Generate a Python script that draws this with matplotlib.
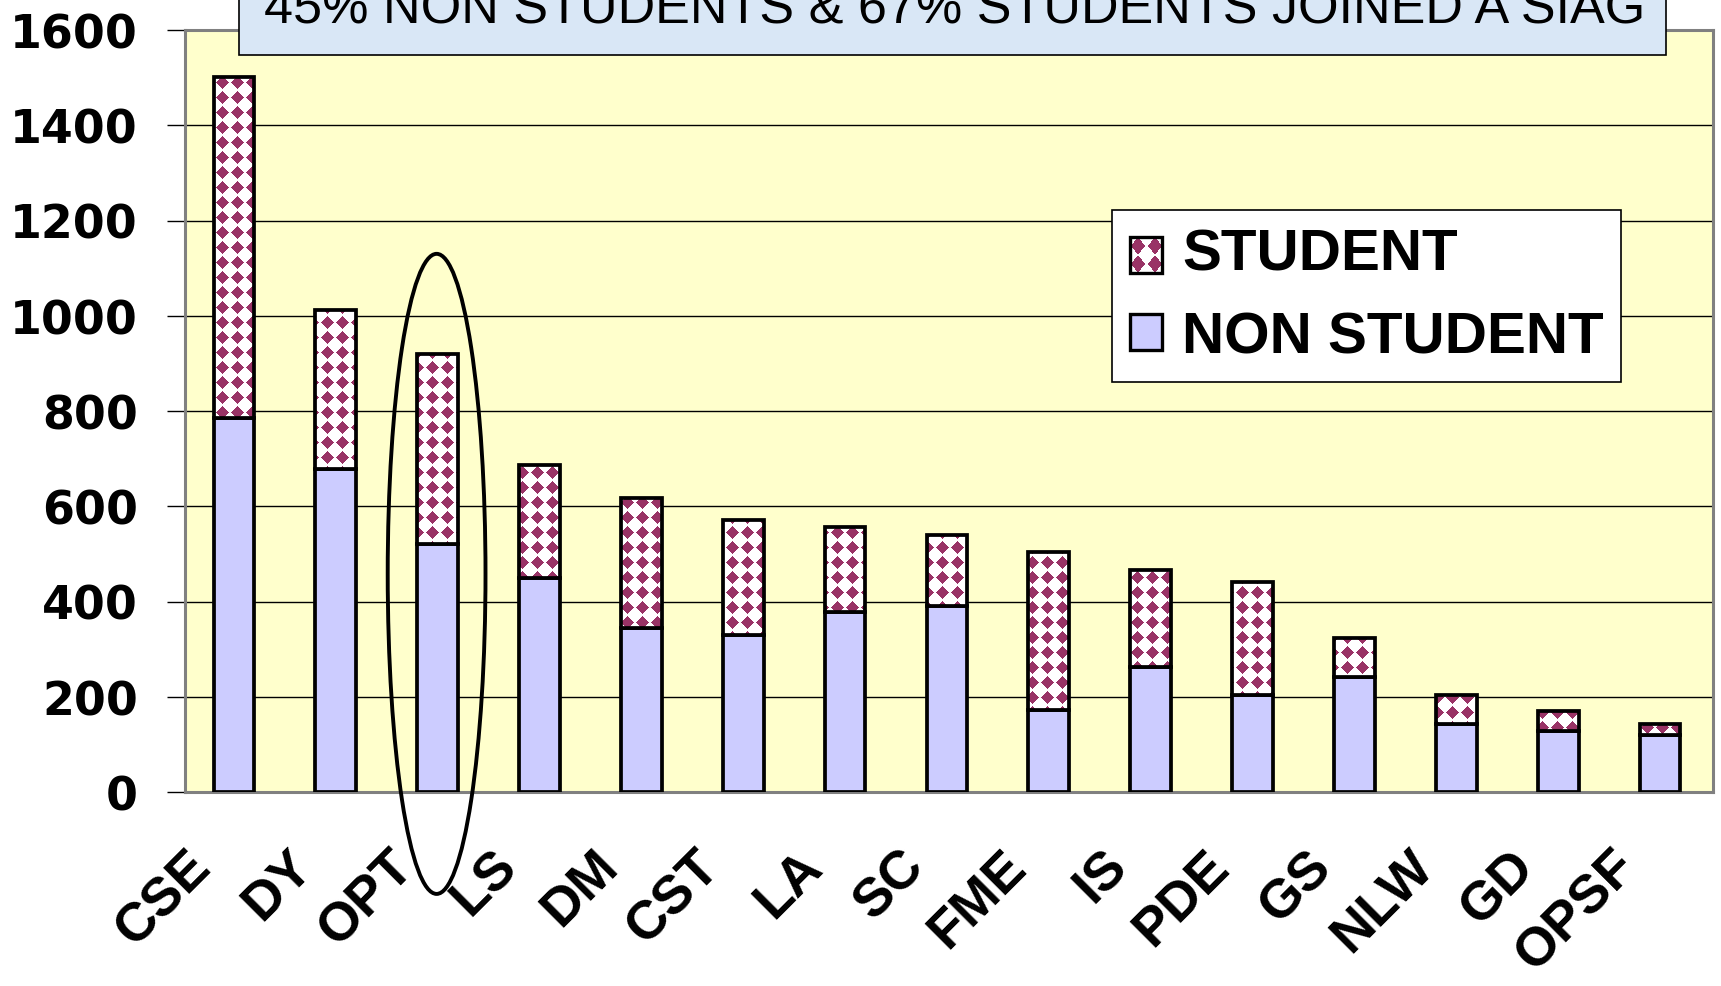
import matplotlib
matplotlib.use('Agg')
import matplotlib.pyplot as plt
import numpy as np
from matplotlib.patches import Rectangle, Ellipse, Patch
from matplotlib.path import Path
from matplotlib.image import BboxImage
from matplotlib.transforms import Bbox, TransformedBbox, ScaledTranslation

# ---------------- data ----------------
categories = ['CSE', 'DY', 'OPT', 'LS', 'DM', 'CST', 'LA', 'SC', 'FME',
              'IS', 'PDE', 'GS', 'NLW', 'GD', 'OPSF']
non_student = [785, 678, 520, 450, 345, 330, 377, 390, 172, 262, 203, 241, 142, 128, 119]
student = [717, 334, 400, 236, 272, 242, 179, 150, 331, 204, 238, 82, 61, 43, 24]
yticks = [0, 200, 400, 600, 800, 1000, 1200, 1400, 1600]
title = '45% NON STUDENTS & 67% STUDENTS JOINED A SIAG'
legend_labels = ['STUDENT', 'NON STUDENT']
highlight = 'OPT'

# ---------------- style ----------------
W, H = 1721, 987
DPI = 100
MAROON = np.array([0x99, 0x33, 0x66], dtype=np.uint8)
LILAC = '#CCCCFF'
PLOT_BG = '#FFFFCC'
EDGE_LW = 2.7


def diamond_pattern(h, w, c=15, frac=0.88):
    yy, xx = np.mgrid[0:h, 0:w]
    dx = np.abs((xx % c) - (c - 1) / 2.0)
    dy = np.abs((yy % c) - (c - 1) / 2.0)
    mask = (dx + dy) < (c / 2.0) * frac
    img = np.full((h, w, 3), 255, dtype=np.uint8)
    img[mask] = MAROON
    return img


class PatternHandler:
    def legend_artist(self, legend, orig_handle, fontsize, handlebox):
        x0, y0 = handlebox.xdescent, handlebox.ydescent
        w, h = handlebox.width, handlebox.height
        tr = handlebox.get_transform()
        bb = TransformedBbox(Bbox.from_bounds(x0, y0, w, h), tr)
        img = BboxImage(bb, interpolation='nearest')
        img.set_data(diamond_pattern(32, 32, c=16))
        handlebox.add_artist(img)
        rect = Rectangle((x0, y0), w, h, facecolor='none', edgecolor='black',
                         lw=2.4, transform=tr)
        handlebox.add_artist(rect)
        return rect


fig = plt.figure(figsize=(W / DPI, H / DPI), dpi=DPI)
ax_l, ax_t, ax_r, ax_b = 185, 31, 1713, 793
ax = fig.add_axes([ax_l / W, 1 - ax_b / H, (ax_r - ax_l) / W, (ax_b - ax_t) / H])
ax.set_facecolor(PLOT_BG)

x = np.arange(len(categories))
bw = 0.4
ax.bar(x - 0.02, non_student, width=bw, color=LILAC, edgecolor='black', lw=EDGE_LW, zorder=3)
st_bars = ax.bar(x - 0.02, student, bottom=non_student, width=bw, facecolor='none',
                 edgecolor='black', lw=EDGE_LW, zorder=4)

ax.set_xlim(-0.5, len(categories) - 0.5)
ax.set_ylim(0, 1600)

# diamond-checker fill for the student segments
pw, ph = ax_r - ax_l, ax_b - ax_t
im = ax.imshow(diamond_pattern(ph, pw), extent=(-0.5, len(categories) - 0.5, 0, 1600),
               origin='upper', aspect='auto', interpolation='nearest', zorder=3.5)
paths = []
for r in st_bars.patches:
    x0, y0 = r.get_xy()
    w, h = r.get_width(), r.get_height()
    paths.append(Path([[x0, y0], [x0 + w, y0], [x0 + w, y0 + h], [x0, y0 + h], [x0, y0]], closed=True))
im.set_clip_path(Path.make_compound_path(*paths), ax.transData)
ax.set_xlim(-0.5, len(categories) - 0.5)
ax.set_ylim(0, 1600)

# grid
ax.set_axisbelow(True)
ax.yaxis.grid(True, color='black', lw=1.0)
ax.xaxis.grid(False)

for s in ax.spines.values():
    s.set_color('#808080')
    s.set_linewidth(2.2)

ax.set_yticks(yticks)
ax.set_yticklabels([str(v) for v in yticks], fontsize=33, fontweight='bold', family='DejaVu Sans')
ax.tick_params(axis='y', direction='out', length=13, width=1.0, color='black', pad=21)

ax.set_xticks(x)
ax.set_xticklabels(categories, rotation=45, ha='right', va='center', rotation_mode='anchor',
                   fontsize=39, fontweight='bold', family='Liberation Sans')
ax.tick_params(axis='x', length=0, pad=0)
off = ScaledTranslation(-33 / DPI, -66 / DPI, fig.dpi_scale_trans)
for lab in ax.get_xticklabels():
    lab.set_transform(lab.get_transform() + off)

# ellipse highlight
hi = categories.index(highlight)
ax.add_patch(Ellipse((hi - 0.03, 458), 0.96, 1344, fill=False, ec='black', lw=2.8,
                     clip_on=False, zorder=6))

# legend
h_student = Patch(facecolor='white', edgecolor='black', label=legend_labels[0])
h_non = Patch(facecolor=LILAC, edgecolor='black', lw=2.4, label=legend_labels[1])
leg = ax.legend(handles=[h_student, h_non], handler_map={h_student: PatternHandler()},
                loc='upper left', bbox_to_anchor=(1112 / W, 1 - 211 / H),
                bbox_transform=fig.transFigure,
                prop=dict(family='Liberation Sans', weight='bold', size=42),
                frameon=True, fancybox=False, edgecolor='black', framealpha=1,
                borderaxespad=0, handlelength=0.55, handleheight=0.55,
                handletextpad=0.35, borderpad=0.3, labelspacing=0.5)
leg.get_frame().set_linewidth(1.2)
leg.set_zorder(10)

# title box
fig.add_artist(Rectangle((239 / W, 1 - 56 / H), (1666 - 239) / W, 70 / H,
                         transform=fig.transFigure, facecolor='#D9E7F6',
                         edgecolor='black', lw=1.2, zorder=5))
fig.text(955 / W, 1 - 24 / H, title, ha='center', va='baseline', fontsize=37.5,
         family='Liberation Sans', zorder=6)

fig.savefig('out.png', dpi=DPI)
